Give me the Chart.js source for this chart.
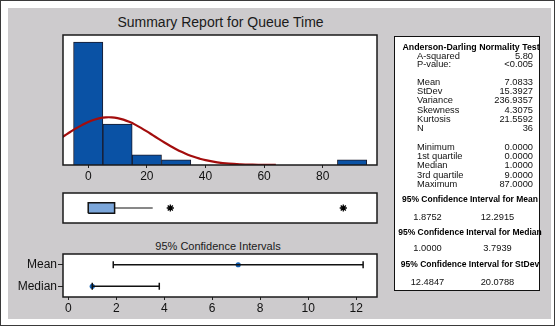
<!DOCTYPE html>
<html><head><meta charset="utf-8">
<script src="https://cdn.jsdelivr.net/npm/chart.js@4.4.1/dist/chart.umd.min.js"></script>
<style>
html,body{margin:0;padding:0;background:#fff;}
body{width:555px;height:329px;position:relative;overflow:hidden;font-family:"Liberation Sans",Arial,sans-serif;color:#000;}
#frame{position:absolute;left:0;top:0;width:555px;height:326px;box-sizing:border-box;border:1px solid #3a3a3a;}
#gray{position:absolute;left:8px;top:8px;width:543px;height:311px;background:#cdcbcd;}
#panel{position:absolute;left:394px;top:36px;width:146px;height:255px;box-sizing:border-box;background:#fff;border:1.5px solid #111;}
canvas{position:absolute;left:0;top:0;}
.t{position:absolute;white-space:nowrap;line-height:10px;font-size:9.3px;color:#111;}
.b{font-weight:bold;font-size:8.5px;color:#000;}
#title{position:absolute;left:0;width:441px;text-align:center;top:13px;font-size:14px;line-height:18px;color:#1a1a1a;}
#cititle{position:absolute;left:0;width:436px;text-align:center;top:239px;font-size:11px;line-height:14px;color:#1a1a1a;}
</style></head>
<body>
<div id="frame"></div>
<div id="gray"></div>
<div id="title">Summary Report for Queue Time</div>
<div id="cititle">95% Confidence Intervals</div>
<div id="panel"></div>
<canvas id="c1" width="555" height="329"></canvas>
<canvas id="c2" width="555" height="329"></canvas>
<canvas id="c3" width="555" height="329"></canvas>
<div id="stats"></div>
<script>
// ---- data ----
const binCenters = [0,10,20,30,40,50,60,70,80,90];
const binCounts  = [24,8,2,1,0,0,0,0,0,1];
const histTicks  = [0,20,40,60,80];
const curveX = [-10,-8,-6,-4,-2,0,2,4,6,8,10,12,14,16,18,20,22,24,26,28,30,32,34,36,38,40,44,48,52,56,60,64];
const curveY = [5.04,5.77,6.50,7.20,7.84,8.40,8.84,9.15,9.31,9.31,9.16,8.87,8.43,7.89,7.25,6.56,5.83,5.10,4.39,3.71,3.08,2.52,2.02,1.60,1.24,0.95,0.53,0.27,0.13,0.06,0.025,0.01];
const boxQ1 = 0, boxMedian = 1, boxQ3 = 9, whiskerHigh = 22;
const outliers = [28, 87];
const ciNames  = ['Mean','Median'];
const ciLow    = [1.8752, 1.0000];
const ciHigh   = [12.2915, 3.7939];
const ciCenter = [7.0833, 1.0000];
const ciTicks  = [0,2,4,6,8,10,12];
const adLabels = ['A-squared','P-value:'];
const adValues = ['5.80','<0.005'];
const momLabels = ['Mean','StDev','Variance','Skewness','Kurtosis','N'];
const momValues = ['7.0833','15.3927','236.9357','4.3075','21.5592','36'];
const qLabels = ['Minimum','1st quartile','Median','3rd quartile','Maximum'];
const qValues = ['0.0000','0.0000','1.0000','9.0000','87.0000'];
const ciHeads = ['95% Confidence Interval for Mean','95% Confidence Interval for Median','95% Confidence Interval for StDev'];
const ciRows  = [['1.8752','12.2915'],['1.0000','3.7939'],['12.4847','20.0788']];

// ---- stats panel text ----
const st = document.getElementById('stats');
function addText(txt, x, yc, cls, align){
  const d = document.createElement('div');
  d.className = 't ' + (cls||'');
  d.textContent = txt;
  d.style.top = (yc-5) + 'px';
  if (align === 'right'){ d.style.left = (x-200)+'px'; d.style.width='200px'; d.style.textAlign='right'; }
  else if (align === 'center'){ d.style.left = (x-100)+'px'; d.style.width='200px'; d.style.textAlign='center'; }
  else d.style.left = x + 'px';
  st.appendChild(d);
  return d;
}
addText('Anderson-Darling Normality Test', 471, 46.5, 'b', 'center').style.fontSize='8.8px';
adLabels.forEach((l,i)=>{ addText(l,417,56+i*8.3); addText(adValues[i],533,56+i*8.3,'','right'); });
momLabels.forEach((l,i)=>{ addText(l,417,82+i*9.2); addText(momValues[i],533,82+i*9.2,'','right'); });
qLabels.forEach((l,i)=>{ addText(l,417,146.5+i*9.35); addText(qValues[i],533,146.5+i*9.35,'','right'); });
const headY = [199, 231.7, 264], rowY = [217, 247.5, 281.7];
ciHeads.forEach((h,i)=>{
  addText(h, 470, headY[i], 'b', 'center');
  addText(ciRows[i][0], 427.5, rowY[i], '', 'center');
  addText(ciRows[i][1], 497.5, rowY[i], '', 'center');
});

// ---- charts ----
const FONT = "'Liberation Sans', Arial, sans-serif";
Chart.defaults.font.family = FONT;
Chart.defaults.color = '#111';
const borderPlugin = {
  id:'areaBorder',
  afterDatasetsDraw(chart){
    const a = chart.chartArea, ctx = chart.ctx;
    ctx.save(); ctx.strokeStyle = '#1a1a1a'; ctx.lineWidth = 1.5;
    ctx.strokeRect(a.left, a.top, a.right-a.left, a.bottom-a.top);
    ctx.restore();
  }
};
const whiteBg = {
  id:'whiteBg',
  beforeDraw(chart){
    const a = chart.chartArea, ctx = chart.ctx;
    ctx.save(); ctx.fillStyle = '#fff';
    ctx.fillRect(a.left, a.top, a.right-a.left, a.bottom-a.top);
    ctx.restore();
  }
};
const common = {responsive:false, animation:false, devicePixelRatio:1,
  plugins:{legend:{display:false}, tooltip:{enabled:false}, title:{display:false}}, events:[]};

// Histogram
new Chart(document.getElementById('c1'), {
  type:'bar',
  data:{datasets:[
    {type:'line', data: curveX.map((x,i)=>({x:x,y:curveY[i]})), borderColor:'#a30d0d', borderWidth:2.2,
     pointRadius:0, tension:0.4, fill:false, order:0},
    {type:'bar', data: binCenters.map((c,i)=>({x:c,y:binCounts[i]})), backgroundColor:'#0a52a5',
     borderColor:'#1a1a2a', borderWidth:1, barPercentage:1, categoryPercentage:1, order:1}
  ]},
  options:Object.assign({}, common, {
    layout:{padding:{left:63, top:35, right:178, bottom:144}},
    scales:{
      x:{type:'linear', min:-8.6, max:98.5, offset:false,
         afterBuildTicks(s){ s.ticks = histTicks.map(v=>({value:v})); },
         afterFit(s){ s.height = 20; },
         grid:{display:true, drawOnChartArea:false, drawTicks:true, tickLength:3, color:'#222', offset:false},
         border:{display:false},
         ticks:{font:{size:12}, color:'#111', padding:1, maxRotation:0}},
      y:{display:false, min:0, max:25.4}
    }
  }),
  plugins:[whiteBg, borderPlugin]
});

// Boxplot
new Chart(document.getElementById('c2'), {
  type:'scatter',
  data:{datasets:[
    {data:[{x:boxQ1,y:-1},{x:boxQ3,y:-1},{x:boxQ3,y:1},{x:boxQ1,y:1},{x:boxQ1,y:-1}], showLine:true, fill:'shape',
     backgroundColor:'#7ba6da', borderColor:'#111', borderWidth:1.5, pointRadius:0, tension:0},
    {data:[{x:boxMedian,y:-1},{x:boxMedian,y:1}], showLine:true, borderColor:'#111', borderWidth:1.5, pointRadius:0},
    {data:[{x:boxQ3,y:0},{x:whiskerHigh,y:0}], showLine:true, borderColor:'#111', borderWidth:1, pointRadius:0},
    {data: outliers.map(v=>({x:v,y:0})), pointStyle:'star', pointRadius:3.6, pointBorderWidth:1.3,
     borderColor:'#000', backgroundColor:'#000'}
  ]},
  options:Object.assign({}, common, {
    layout:{padding:{left:63, top:193, right:178, bottom:106}},
    scales:{
      x:{type:'linear', display:false, min:-8.6, max:98.5},
      y:{type:'linear', display:false, min:-2.8, max:2.8}
    }
  }),
  plugins:[whiteBg, borderPlugin]
});

// Confidence intervals
const ciSets = ciNames.map((n,i)=>({
  data:[{x:ciLow[i],y:n},{x:ciHigh[i],y:n}], showLine:true, borderColor:'#111', borderWidth:1.5,
  pointStyle:'line', pointRotation:90, pointRadius:3.5, pointBorderWidth:1.5, pointBorderColor:'#111'
}));
ciSets.push({data: ciNames.map((n,i)=>({x:ciCenter[i],y:n})), pointStyle:'circle', pointRadius:2.6,
  backgroundColor:'#1461b4', borderColor:'#1461b4', borderWidth:0});
new Chart(document.getElementById('c3'), {
  type:'scatter',
  data:{datasets: ciSets},
  options:Object.assign({}, common, {
    layout:{padding:{left:0, top:254, right:178, bottom:12}},
    scales:{
      x:{type:'linear', min:-0.22, max:12.87,
         afterBuildTicks(s){ s.ticks = ciTicks.map(v=>({value:v})); },
         afterFit(s){ s.height = 20; },
         grid:{display:true, drawOnChartArea:false, drawTicks:true, tickLength:3, color:'#222'},
         border:{display:false},
         ticks:{font:{size:12}, color:'#111', padding:1, maxRotation:0}},
      y:{type:'category', labels: ciNames, offset:true,
         afterFit(s){ s.width = 63; },
         grid:{display:true, drawOnChartArea:false, drawTicks:true, tickLength:5, color:'#222', offset:false},
         border:{display:false},
         ticks:{font:{size:12}, color:'#111', padding:1}}
    }
  }),
  plugins:[whiteBg, borderPlugin]
});
</script>
</body></html>
